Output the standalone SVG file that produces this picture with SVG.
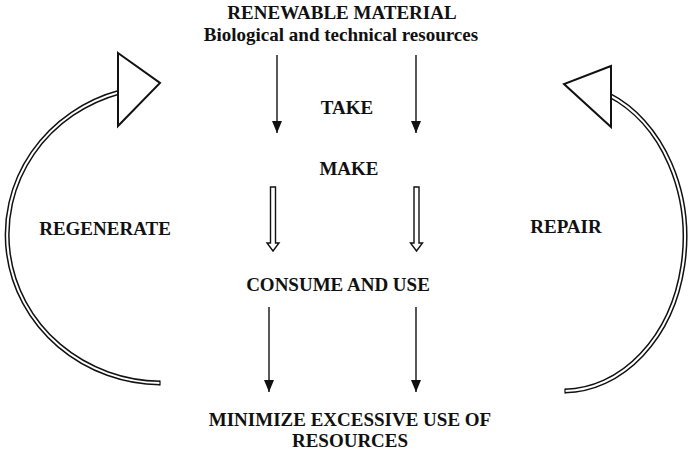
<svg xmlns="http://www.w3.org/2000/svg" width="690" height="450" viewBox="0 0 690 450">
<defs>
<style>
text{font-family:"Liberation Serif","Times New Roman",serif;font-weight:bold;font-size:19px;fill:#111;text-anchor:middle}
.thin{stroke:#111;stroke-width:1.4;fill:none}
.hollow{fill:#fff;stroke:#111;stroke-width:1.4;stroke-linejoin:miter}
.bandO{fill:none;stroke:#111;stroke-width:5}
.bandI{fill:none;stroke:#fff;stroke-width:2}
.tri{fill:#fff;stroke:#111;stroke-width:2;stroke-linejoin:miter}
</style>
<marker id="ah" viewBox="0 0 12 10" refX="12" refY="5" markerWidth="12" markerHeight="10" markerUnits="userSpaceOnUse" orient="auto">
<path d="M0,0 L12,5 L0,10 Z" fill="#111"/>
</marker>
</defs>
<rect width="690" height="450" fill="#fff"/>
<g id="connectors">
<line class="thin" x1="277" y1="55" x2="277" y2="133" marker-end="url(#ah)"/>
<line class="thin" x1="416" y1="55" x2="416" y2="133" marker-end="url(#ah)"/>
<path class="hollow" d="M270.5,187 L275.5,187 L275.5,243 L279,243 L273,251 L267,243 L270.5,243 Z"/>
<path class="hollow" d="M414,187 L419,187 L419,243 L422.5,243 L416.5,251 L410.5,243 L414,243 Z"/>
<line class="thin" x1="269" y1="307" x2="269" y2="392" marker-end="url(#ah)"/>
<line class="thin" x1="416" y1="307" x2="416" y2="392" marker-end="url(#ah)"/>
<g id="regenerate-arrow">
<path class="bandO" d="M160,383 A155,148.3 0 0 1 120,92"/>
<path class="bandI" d="M160,383 A155,148.3 0 0 1 120,92"/>
<line x1="160" y1="380.5" x2="160" y2="385.5" stroke="#111" stroke-width="1.2"/>
<polygon class="tri" points="118,53 160,83 118,126"/>
</g>
<g id="repair-arrow">
<path class="bandO" d="M565,391 A122,153.7 0 0 0 609,95"/>
<path class="bandI" d="M565,391 A122,153.7 0 0 0 609,95"/>
<line x1="565" y1="388.5" x2="565" y2="393.5" stroke="#111" stroke-width="1.2"/>
<polygon class="tri" points="611,66 564,84 611,127"/>
</g>
</g>
<g id="source">
<text x="342" y="19">RENEWABLE MATERIAL</text>
<text x="341" y="41">Biological and technical resources</text>
</g>
<g id="take"><text x="347" y="114">TAKE</text></g>
<g id="make"><text x="349" y="175">MAKE</text></g>
<g id="consume"><text x="338" y="291">CONSUME AND USE</text></g>
<g id="minimize">
<text x="350" y="426">MINIMIZE EXCESSIVE USE OF</text>
<text x="350" y="447">RESOURCES</text>
</g>
<g id="regenerate"><text x="105" y="235">REGENERATE</text></g>
<g id="repair"><text x="566" y="233">REPAIR</text></g>
</svg>
